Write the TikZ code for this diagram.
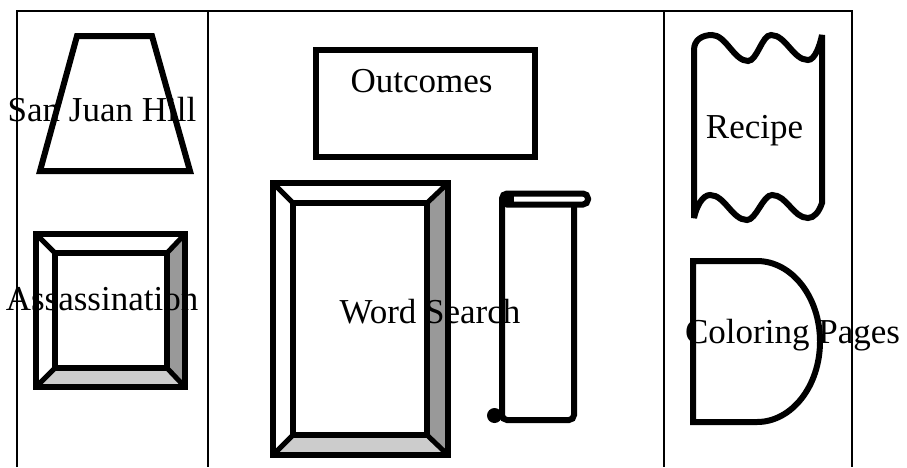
\documentclass[tikz,border=0pt]{standalone}
\usepackage{fontspec}
\setmainfont{Liberation Serif}
\definecolor{bevdark}{RGB}{153,153,153}
\definecolor{bevlight}{RGB}{204,204,204}
\begin{document}
\begin{tikzpicture}[x=1pt,y=-1pt,
  shp/.style={line width=6pt, line join=miter},
  diag/.style={line width=5pt},
  lbl/.style={font=\fontsize{35}{42}\selectfont, inner sep=0pt, anchor=base},
  thinline/.style={line width=1.6pt},
  thickline/.style={line width=2.6pt}]
\useasboundingbox (0,0) rectangle (907,467);
% frame
\draw[thinline] (17,467) -- (17,11) -- (852,11) -- (852,467);
\draw[thickline] (208,11) -- (208,467);
\draw[thickline] (664,11) -- (664,467);
% trapezoid
\draw[shp, fill=white] (77,36) -- (152,36) -- (190,171) -- (40,171) -- cycle;
% bevel: Assassination
\fill[white] (36,234) rectangle (185,387);
\fill[bevdark] (185,234) -- (167,253) -- (167,368) -- (185,387) -- cycle;
\fill[bevlight] (36,387) -- (55,368) -- (167,368) -- (185,387) -- cycle;
\draw[diag] (36,234) -- (55,253) (185,234) -- (167,253) (36,387) -- (55,368) (185,387) -- (167,368);
\draw[shp] (36,234) rectangle (185,387);
\draw[shp] (55,253) rectangle (167,368);
% outcomes
\draw[shp] (316,50) rectangle (535,157);
% bevel: Word Search
\fill[white] (273,183) rectangle (448,455);
\fill[bevdark] (448,183) -- (427,203) -- (427,435) -- (448,455) -- cycle;
\fill[bevlight] (273,455) -- (293,435) -- (427,435) -- (448,455) -- cycle;
\draw[diag] (273,183) -- (293,203) (448,183) -- (427,203) (273,455) -- (293,435) (448,455) -- (427,435);
\draw[shp] (273,183) rectangle (448,455);
\draw[shp] (293,203) rectangle (427,435);
% scroll
\draw[shp, rounded corners=5pt] (502,200) -- (502,420) -- (574,420) -- (574,204);
\draw[shp, rounded corners=5pt] (502,193.5) rectangle (588,204.5);
\fill (502,193.5) rectangle (514,204.5);
\fill (494.5,415.5) circle (7.5pt);
% recipe (punched tape)
\draw[shp, miter limit=2] (694,50) .. controls (694,40) and (702,35) .. (712,35)
  .. controls (726,35) and (734,61) .. (748,61)
  .. controls (757,61) and (762,35) .. (771,35)
  .. controls (786,35) and (793,60) .. (808,60)
  .. controls (815,60) and (820,45) .. (822,35)
  -- (822,203)
  .. controls (819,212) and (814,218) .. (808,218)
  .. controls (793,218) and (787,195) .. (772,195)
  .. controls (763,195) and (756,220) .. (747,220)
  .. controls (732,220) and (725,195) .. (710,195)
  .. controls (702,195) and (696,208) .. (694,218)
  -- cycle;
% D shape
\draw[shp] (757,261) -- (693,261) -- (693,422) -- (757,422)
  .. controls (791.8,422) and (820,386) .. (820,341.5)
  .. controls (820,297) and (791.8,261) .. (757,261) -- cycle;
% labels
\node[lbl] (sanjuan) at (102,121) {San Juan Hill};
\node[lbl] (assass) at (102,310) {Assassination};
\node[lbl] (outcomes) at (421.5,92) {Outcomes};
\node[lbl] (wordsearch) at (430,323) {Word Search};
\node[lbl] (recipe) at (754.5,138) {Recipe};
\node[lbl] (coloring) at (792.5,343) {Coloring Pages};
\end{tikzpicture}
\end{document}
